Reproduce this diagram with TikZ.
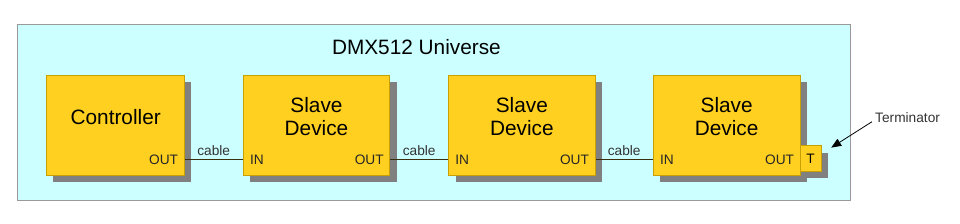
\documentclass[tikz,border=0pt]{standalone}
\usepackage{fontspec}
\setmainfont{Liberation Sans}
\usetikzlibrary{shadows,calc,arrows.meta}
\definecolor{bgcyan}{HTML}{CCFFFF}
\definecolor{bgborder}{HTML}{999999}
\definecolor{boxfill}{HTML}{FFD020}
\definecolor{boxborder}{HTML}{C8A000}
\definecolor{shadowgray}{HTML}{808080}
\definecolor{cablecol}{HTML}{3A2E10}
\definecolor{termtext}{HTML}{333333}
\tikzset{
  universe/.style={draw=bgborder, fill=bgcyan, line width=1pt, minimum width=833pt, minimum height=176pt, inner sep=0pt},
  devbox/.style={draw=boxborder, fill=boxfill, line width=1pt, minimum height=100pt, inner sep=0pt,
    drop shadow={shadow xshift=7pt, shadow yshift=-7pt, fill=shadowgray, opacity=1}},
  termbox/.style={devbox, minimum width=21.3pt, minimum height=25.3pt, font=\fontsize{13.7}{15}\selectfont},
  bigtxt/.style={font=\fontsize{20.8}{23}\selectfont, align=center, inner sep=0pt, text=black},
  porttxt/.style={font=\fontsize{13.7}{15}\selectfont, inner sep=0pt, text=black!85},
  cabletxt/.style={font=\fontsize{13.7}{15}\selectfont, inner sep=0pt, text=black!80, anchor=base},
  cable/.style={draw=cablecol, line width=1pt},
  termarrow/.style={draw=black, line width=0.8pt, -{Triangle[length=10pt,width=8pt]}},
}
\begin{document}
\begin{tikzpicture}[x=1pt,y=-1pt]
\useasboundingbox (0,0) rectangle (960,224);
\node[universe] (uni) at (433.8,112.3) {};
\node[bigtxt] (title) at (416.4,47.3) {DMX512 Universe};

\node[devbox, minimum width=137.7pt] (c) at (115.2,125.3) {};
\node[devbox, minimum width=146.4pt] (s1) at (316.5,125.3) {};
\node[devbox, minimum width=146.3pt] (s2) at (521.85,125.3) {};
\node[devbox, minimum width=146.7pt] (s3) at (726.65,125.3) {};
\node[termbox] (t) at (810.65,158.65) {T};

\node[bigtxt] (ctxt) at (115.7,116.7) {Controller};
\node[bigtxt] (s1txt) at (316.5,116.5) {Slave\\Device};
\node[bigtxt] (s2txt) at (521.85,116.5) {Slave\\Device};
\node[bigtxt] (s3txt) at (726.65,116.5) {Slave\\Device};

% ports
\node[porttxt, anchor=base east] (cout) at ($(c.east)+(-6.3,39)$) {OUT};
\node[porttxt, anchor=base west] (s1in) at ($(s1.west)+(7,39)$) {IN};
\node[porttxt, anchor=base east] (s1out) at ($(s1.east)+(-6.3,39)$) {OUT};
\node[porttxt, anchor=base west] (s2in) at ($(s2.west)+(7,39)$) {IN};
\node[porttxt, anchor=base east] (s2out) at ($(s2.east)+(-6.3,39)$) {OUT};
\node[porttxt, anchor=base west] (s3in) at ($(s3.west)+(7,39)$) {IN};
\node[porttxt, anchor=base east] (s3out) at ($(s3.east)+(-6.3,39)$) {OUT};

% cables
\coordinate (cp1) at ($(c.south east)+(0,-16.6)$);
\coordinate (cp2) at ($(s1.south west)+(0,-16.6)$);
\coordinate (cp3) at ($(s1.south east)+(0,-16.6)$);
\coordinate (cp4) at ($(s2.south west)+(0,-16.6)$);
\coordinate (cp5) at ($(s2.south east)+(0,-16.6)$);
\coordinate (cp6) at ($(s3.south west)+(0,-16.6)$);
\draw[cable] (cp1) -- (cp2);
\draw[cable] (cp3) -- (cp4);
\draw[cable] (cp5) -- (cp6);
\node[cabletxt] (cab1) at ($(cp1)!0.5!(cp2)+(0,-3.4)$) {cable};
\node[cabletxt] (cab2) at ($(cp3)!0.5!(cp4)+(0,-3.4)$) {cable};
\node[cabletxt] (cab3) at ($(cp5)!0.5!(cp6)+(0,-3.4)$) {cable};

% terminator
\node[porttxt, text=termtext, anchor=west] (term) at (875,117.3) {Terminator};
\coordinate (termtip) at ($(t.east)+(9.4,-11)$);
\draw[termarrow] ($(term.west)+(-3,4.4)$) -- (termtip);
\end{tikzpicture}
\end{document}
